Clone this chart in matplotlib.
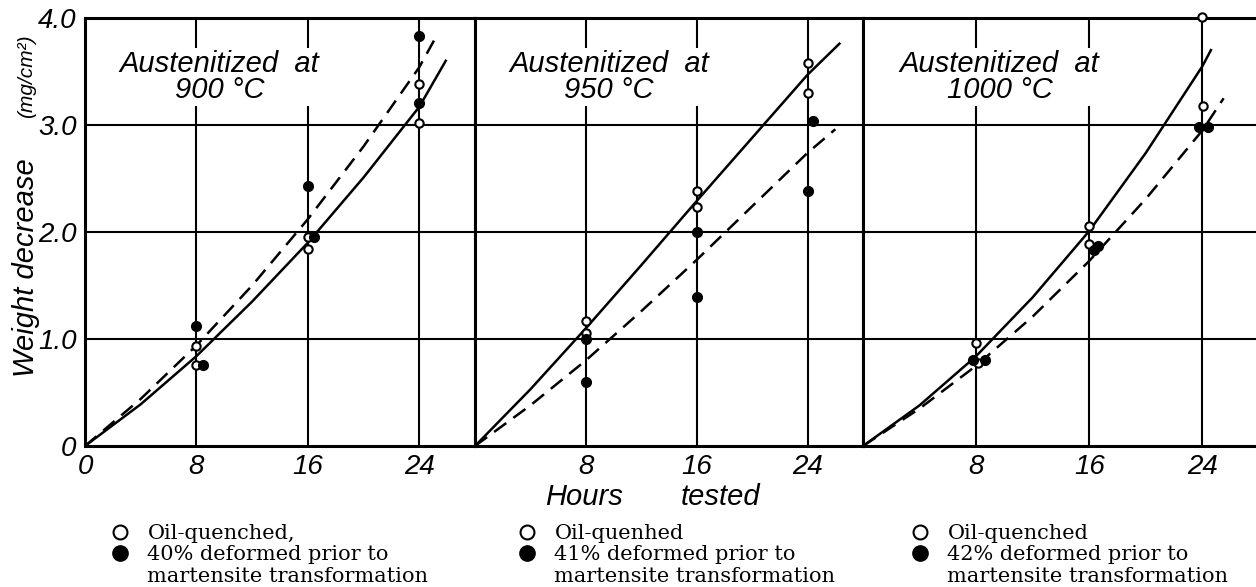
import numpy as np
import matplotlib
matplotlib.use('Agg')
import matplotlib.pyplot as plt
from matplotlib.lines import Line2D

HAND = ['Liberation Sans', 'DejaVu Sans']
TYPE = ['DejaVu Serif']

# hours tested / weight decrease (mg/cm2)
temps = ['900', '950', '1000']
deform = ['40', '41', '42']
oil_names = ['Oil-quenched,', 'Oil-quenhed', 'Oil-quenched']

open_x = [[8, 8, 16, 16, 24, 24],
          [8, 8, 16, 16, 24, 24],
          [8, 8.1, 16, 16, 24, 24.05]]
open_y = [[0.93, 0.76, 1.95, 1.84, 3.38, 3.02],
          [1.17, 1.06, 2.38, 2.23, 3.58, 3.30],
          [0.96, 0.78, 2.06, 1.89, 4.01, 3.18]]
fill_x = [[8, 8.45, 16, 16.44, 24, 24],
          [8, 8, 16, 16, 24.36, 24],
          [7.77, 8.66, 16.3, 16.6, 23.73, 24.37]]
fill_y = [[1.12, 0.76, 2.43, 1.95, 3.83, 3.21],
          [1.00, 0.60, 2.00, 1.39, 3.04, 2.38],
          [0.80, 0.80, 1.83, 1.87, 2.98, 2.98]]

solid_x = [[0, 4, 8, 12, 16, 20, 24, 25.9],
           [0, 4, 8, 12, 16, 20, 24, 26.3],
           [0, 4, 8, 12, 16, 20, 24, 24.6]]
solid_y = [[0, 0.39, 0.84, 1.35, 1.90, 2.51, 3.17, 3.60],
           [0, 0.53, 1.10, 1.69, 2.29, 2.88, 3.47, 3.76],
           [0, 0.38, 0.84, 1.39, 2.01, 2.74, 3.55, 3.70]]
dash_x = [[0, 4, 8, 12, 16, 20, 24, 25.1],
          [0, 4, 8, 12, 16, 20, 24, 26.0],
          [0, 4, 8, 12, 16, 20, 24, 25.5]]
dash_y = [[0, 0.44, 0.94, 1.50, 2.12, 2.80, 3.54, 3.80],
          [0, 0.38, 0.80, 1.26, 1.74, 2.24, 2.74, 2.96],
          [0, 0.35, 0.75, 1.21, 1.73, 2.31, 2.95, 3.25]]

xticks = [8, 16, 24]
yticks = [0, 1, 2, 3, 4]
ylabels = ['0', '1.0', '2.0', '3.0', '4.0']

W, H = 1256, 587
fig = plt.figure(figsize=(W / 100, H / 100), dpi=100)

edges = [85, 475, 863, 1259]
top, bot = 18, 446

for i in range(3):
    l, r = edges[i], edges[i + 1]
    ax = fig.add_axes([l / W, 1 - bot / H, (r - l) / W, (bot - top) / H])
    ax.set_xlim(0, 28)
    ax.set_ylim(0, 4)
    for s in ax.spines.values():
        s.set_linewidth(2.2)
    for v in xticks:
        ax.axvline(v, color='black', lw=1.5, zorder=1)
    for v in yticks[1:-1]:
        ax.axhline(v, color='black', lw=1.5, zorder=1)

    ax.plot(solid_x[i], solid_y[i], color='black', lw=1.8, zorder=3)
    ax.plot(dash_x[i], dash_y[i], color='black', lw=1.8, dashes=(6, 3.5), zorder=3)
    ax.plot(open_x[i], open_y[i], 'o', ms=6, mfc='white', mec='black', mew=1.5,
            zorder=4, clip_on=False)
    ax.plot(fill_x[i], fill_y[i], 'o', ms=7, color='black', zorder=4, clip_on=False)

    ax.text(0.345, 0.862, 'Austenitized  at\n%s °C' % temps[i], transform=ax.transAxes,
            ha='center', va='center', fontsize=21, style='italic', family=HAND,
            linespacing=0.92, zorder=2,
            bbox=dict(facecolor='white', edgecolor='none', pad=1))

    if i == 0:
        ax.set_xticks([0] + xticks)
        ax.set_xticklabels(['0'] + [str(v) for v in xticks])
        ax.set_yticks(yticks)
        ax.set_yticklabels(ylabels)
    else:
        ax.set_xticks(xticks)
        ax.set_xticklabels([str(v) for v in xticks])
        ax.set_yticks([])
    ax.tick_params(length=0, pad=6, labelsize=20)
    for t in ax.get_xticklabels() + ax.get_yticklabels():
        t.set_family(HAND)
        t.set_style('italic')

    # legend block under each panel
    h_open = Line2D([], [], ls='none', marker='o', ms=10, mfc='white', mec='black', mew=1.5)
    h_fill = Line2D([], [], ls='none', marker='o', ms=11, color='black')
    h_none = Line2D([], [], ls='none')
    leg_x = [130, 537, 930][i]
    fig.legend([h_open, h_fill, h_none],
               [oil_names[i], '%s%% deformed prior to' % deform[i],
                'martensite transformation'],
               loc='upper left', bbox_to_anchor=((leg_x - 18) / W, 1 - 524 / H),
               frameon=False, handlelength=0.8, handletextpad=0.9,
               labelspacing=0.12, borderpad=0, borderaxespad=0,
               prop=dict(family=TYPE, size=15))

fig.text(584 / W, 1 - 497 / H, 'Hours', ha='center', va='center',
         fontsize=21, style='italic', family=HAND)
fig.text(720 / W, 1 - 497 / H, 'tested', ha='center', va='center',
         fontsize=21, style='italic', family=HAND)
fig.text(26 / W, 1 - 268 / H, 'Weight decrease', rotation=90, ha='center', va='center',
         fontsize=21, style='italic', family=HAND)
fig.text(27 / W, 1 - 76 / H, '(mg/cm²)', rotation=90, ha='center', va='center',
         fontsize=15, style='italic', family=HAND)

fig.savefig('out.png', dpi=100)
